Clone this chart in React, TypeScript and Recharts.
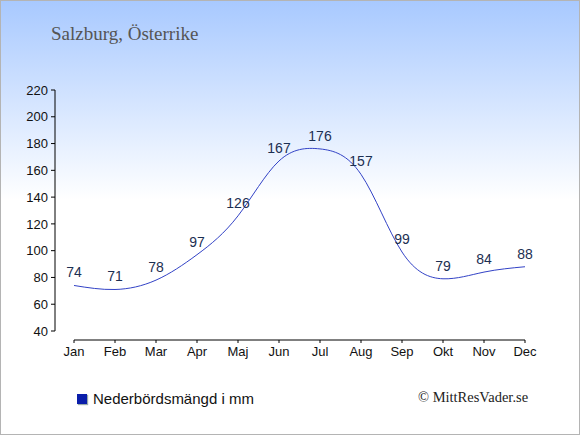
import { LineChart, Line, XAxis, YAxis, LabelList } from "recharts"

const months = ["Jan", "Feb", "Mar", "Apr", "Maj", "Jun", "Jul", "Aug", "Sep", "Okt", "Nov", "Dec"]
const precipitation = [74, 71, 78, 97, 126, 167, 176, 157, 99, 79, 84, 88]
const yTicks = [40, 60, 80, 100, 120, 140, 160, 180, 200, 220]

const seriesName = "Nederbördsmängd i mm"
const title = "Salzburg, Österrike"
const credit = "© MittResVader.se"

const data = months.map((m, i) => ({ month: m, value: precipitation[i] }))

export default function App() {
  return (
    <div
      style={{
        position: "absolute",
        left: 0,
        top: 0,
        width: 580,
        height: 435,
        boxSizing: "border-box",
        border: "1px solid #b4b4b4",
        background: "linear-gradient(to bottom, #a8c9ff 0%, #ffffff 46%, #ffffff 100%)",
        fontFamily: "'Liberation Sans', Arial, sans-serif",
      }}
    >
      <div
        style={{
          position: "absolute",
          left: 50,
          top: 22,
          fontFamily: "'Liberation Serif', 'DejaVu Serif', serif",
          fontSize: 19,
          color: "#555",
        }}
      >
        {title}
      </div>

      <LineChart width={578} height={433} data={data} margin={{ top: 89, right: 54, bottom: 64, left: 0 }}>
        <XAxis
          dataKey="month"
          padding={{ left: 19, right: 0 }}
          axisLine={{ stroke: "#000", strokeDasharray: "0 19 451" }}
          tickLine={{ stroke: "#000" }}
          tickSize={3}
          tickMargin={4}
          height={30}
          interval={0}
          tick={{ fill: "#111", fontSize: 13 }}
        />
        <YAxis
          domain={[33.28, 220]}
          ticks={yTicks}
          width={54}
          axisLine={{ stroke: "#000", strokeDasharray: "241 9" }}
          tickLine={{ stroke: "#000" }}
          tickSize={4}
          tickMargin={3}
          allowDataOverflow
          tick={{ fill: "#111", fontSize: 13 }}
        />
        <Line
          type="natural"
          dataKey="value"
          name={seriesName}
          stroke="#3242c6"
          strokeWidth={1}
          dot={false}
          isAnimationActive={false}
        >
          <LabelList dataKey="value" position="top" offset={8} fill="#1c2f52" fontSize={14} />
        </Line>
      </LineChart>

      <div style={{ position: "absolute", left: 76, top: 389, display: "flex", alignItems: "center" }}>
        <span
          style={{
            width: 10,
            height: 10,
            background: "#0a1eaa",
            boxShadow: "1px 1px 1px #9aa",
            marginRight: 6,
          }}
        />
        <span style={{ fontSize: 15, color: "#111" }}>{seriesName}</span>
      </div>

      <div
        style={{
          position: "absolute",
          left: 417,
          top: 388,
          fontFamily: "'Liberation Serif', 'DejaVu Serif', serif",
          fontSize: 14.5,
          color: "#222",
        }}
      >
        {credit}
      </div>
    </div>
  )
}
